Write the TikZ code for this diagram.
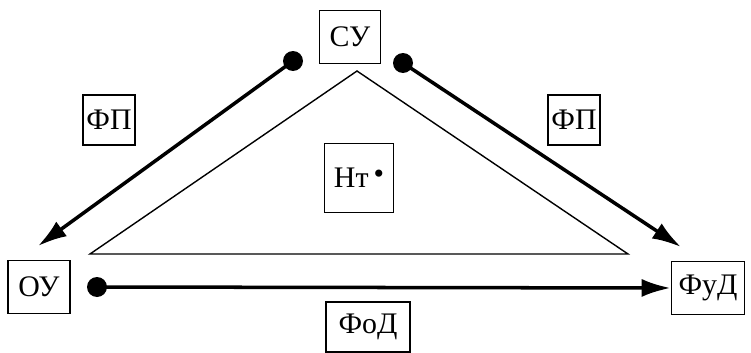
\documentclass[tikz,border=0pt]{standalone}
\usepackage{fontspec}
\setmainfont{Liberation Serif}
\usetikzlibrary{positioning, arrows.meta}

\begin{document}
\begin{tikzpicture}[
		x=0.02cm, y=-0.02cm,
		caja/.style={
			rectangle,
			draw=black,
			line width=0.9pt,
			minimum height=1.06cm,
			inner sep=2pt,
			align=center,
			font=\fontsize{17}{20}\selectfont
		},
		punto/.style={
			circle,
			fill=black,
			inner sep=0pt,
			minimum size=0.4cm
		},
		flecha/.style={
			-{Latex[length=5.8mm, width=3.6mm]},
			line width=2pt
		}
		]
		\useasboundingbox (0,0) rectangle (751,352);
		% Triangle
		\draw[line width=0.8pt] (357,71) -- (90,254) -- (628,254) -- cycle;
		% Nodes
		\node[caja, minimum width=1.22cm] (su) at (350,37) {СУ};
		\node[caja, minimum width=1.24cm] (ou) at (39,287) {ОУ};
		\node[caja, minimum width=1.46cm] (fud) at (708,288) {ФуД};
		\node[caja, minimum width=1.38cm, minimum height=1.38cm] (nt) at (359,178) {Нт\,\raisebox{0.3ex}{\textbullet}};
		\node[caja, minimum width=1.68cm, minimum height=1.0cm] (fod) at (368,327) {ФоД};
		\node[caja, minimum width=0.98cm, minimum height=1.0cm] (fpl) at (109,120) {ФП};
		\node[caja, minimum width=0.98cm, minimum height=1.0cm] (fpr) at (574,120) {ФП};
		% Dots
		\node[punto] (pl) at (293,61) {};
		\node[punto] (pr) at (403,63) {};
		\node[punto] (pb) at (97,287) {};
		\coordinate (tl) at (38,246);
		\coordinate (tr) at (681,247);
		% Arrows
		\draw[flecha] (pl.center) -- (tl);
		\draw[flecha] (pr.center) -- (tr);
		\draw[flecha] (pb.center) -- (fud.west);
	\end{tikzpicture}
\end{document}
